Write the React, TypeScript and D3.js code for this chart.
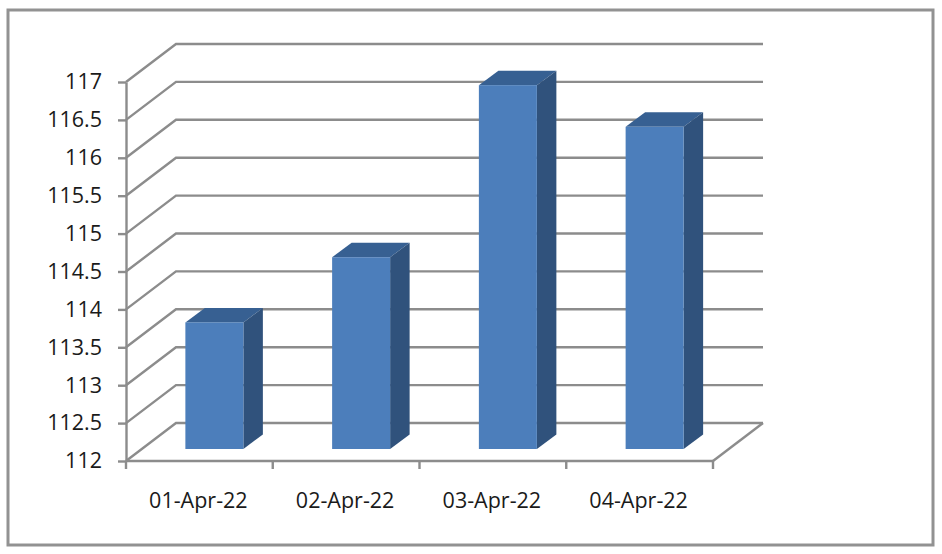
import React, { useEffect, useRef } from 'react';
import * as d3 from 'd3';

const categories = ['01-Apr-22', '02-Apr-22', '03-Apr-22', '04-Apr-22'];
const values = [113.67, 114.53, 116.8, 116.25];
const yTicks = [112, 112.5, 113, 113.5, 114, 114.5, 115, 115.5, 116, 116.5, 117];

const FONT = '"Open Sans", sans-serif';
const GRID = '#8c8c8c';

export default function App() {
  const svgRef = useRef<SVGSVGElement>(null);

  useEffect(() => {
    const svg = d3.select(svgRef.current);
    svg.selectAll('*').remove();

    const x = d3.scaleBand<string>().domain(categories).range([126, 713]);
    const y = d3.scaleLinear().domain([112, 117]).range([461, 82]);

    // oblique offset of the back wall
    const depthX = 50;
    const depthY = 38;
    // bars sit a bit behind the front plane
    const barShiftX = 15;
    const barShiftY = 12;
    const barWidth = 58;
    const sideX = 19.5;
    const sideY = 14.5;

    // outer frame
    svg
      .append('rect')
      .attr('x', 8)
      .attr('y', 10)
      .attr('width', 925)
      .attr('height', 535)
      .attr('fill', '#ffffff')
      .attr('stroke', '#929292')
      .attr('stroke-width', 3);

    // gridlines: side wall diagonal + back wall
    const wallLine = d3
      .line<[number, number]>()
      .x((d) => d[0])
      .y((d) => d[1]);

    svg
      .append('g')
      .selectAll('path')
      .data(yTicks)
      .enter()
      .append('path')
      .attr('d', (t) =>
        wallLine([
          [x.range()[0], y(t)],
          [x.range()[0] + depthX, y(t) - depthY],
          [x.range()[1] + depthX, y(t) - depthY],
        ]),
      )
      .attr('fill', 'none')
      .attr('stroke', GRID)
      .attr('stroke-width', 2.4);

    // floor right edge
    svg
      .append('path')
      .attr(
        'd',
        wallLine([
          [x.range()[1], y(112)],
          [x.range()[1] + depthX, y(112) - depthY],
        ]),
      )
      .attr('fill', 'none')
      .attr('stroke', GRID)
      .attr('stroke-width', 2.4);

    // bars
    const bars = svg
      .append('g')
      .selectAll('g')
      .data(categories.map((c, i) => ({ c, v: values[i] })))
      .enter()
      .append('g')
      .attr('transform', (d) => {
        const left =
          (x(d.c) as number) + x.bandwidth() / 2 + barShiftX - barWidth / 2;
        return `translate(${left},${-barShiftY})`;
      });

    // top face
    bars
      .append('path')
      .attr(
        'd',
        (d) =>
          `M0,${y(d.v)}L${sideX},${y(d.v) - sideY}L${barWidth + sideX},${y(d.v) - sideY}L${barWidth},${y(d.v)}Z`,
      )
      .attr('fill', '#376092');

    // side face
    bars
      .append('path')
      .attr(
        'd',
        (d) =>
          `M${barWidth},${y(d.v)}L${barWidth + sideX},${y(d.v) - sideY}L${barWidth + sideX},${y(112) - sideY}L${barWidth},${y(112)}Z`,
      )
      .attr('fill', '#30527c');

    // front face
    bars
      .append('rect')
      .attr('x', 0)
      .attr('y', (d) => y(d.v))
      .attr('width', barWidth)
      .attr('height', (d) => y(112) - y(d.v))
      .attr('fill', '#4c7ebb');

    // y axis
    const yAxis = svg
      .append('g')
      .attr('transform', `translate(${x.range()[0]},0)`)
      .call(
        d3
          .axisLeft(y)
          .tickValues(yTicks)
          .tickSize(8)
          .tickSizeOuter(0)
          .tickPadding(16)
          .tickFormat((d) => String(d)),
      );
    yAxis.selectAll('line').attr('stroke', GRID).attr('stroke-width', 2.4);
    yAxis.select('.domain').attr('stroke', GRID).attr('stroke-width', 2.4);
    yAxis
      .selectAll('text')
      .attr('fill', '#1a1a1a')
      .style('font-family', FONT)
      .style('font-size', '21.5px');

    // x axis baseline and ticks at the band edges
    const xAxis = svg.append('g');
    xAxis
      .append('line')
      .attr('x1', x.range()[0])
      .attr('x2', x.range()[1])
      .attr('y1', y(112))
      .attr('y2', y(112))
      .attr('stroke', GRID)
      .attr('stroke-width', 2.4);
    xAxis
      .selectAll('line.tick')
      .data([...categories.map((c) => x(c) as number), x.range()[1]])
      .enter()
      .append('line')
      .attr('class', 'tick')
      .attr('x1', (d) => d)
      .attr('x2', (d) => d)
      .attr('y1', y(112))
      .attr('y2', y(112) + 8)
      .attr('stroke', GRID)
      .attr('stroke-width', 2.4);
    xAxis
      .selectAll('text')
      .data(categories)
      .enter()
      .append('text')
      .attr('x', (d) => (x(d) as number) + x.bandwidth() / 2 - 1)
      .attr('y', 508)
      .attr('text-anchor', 'middle')
      .attr('fill', '#1a1a1a')
      .style('font-family', FONT)
      .style('font-size', '21.5px')
      .text((d) => d);
  }, []);

  return (
    <svg
      ref={svgRef}
      width={942}
      height={554}
      style={{ position: 'absolute', left: 0, top: 0, background: '#ffffff' }}
    />
  );
}
